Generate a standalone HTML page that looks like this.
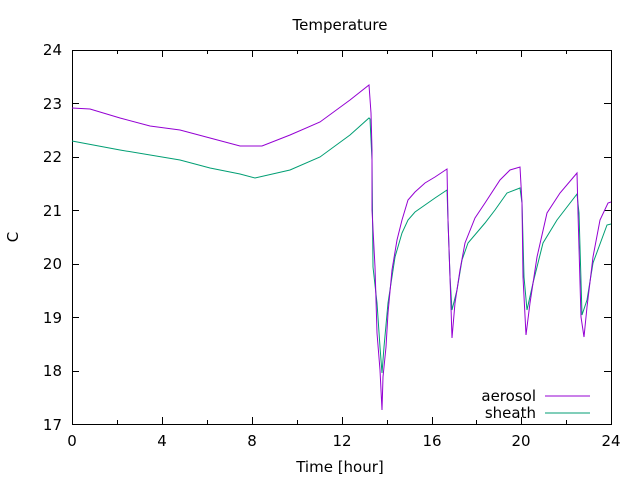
<!DOCTYPE html>
<html><head><style>body{margin:0;background:#fff}svg{display:block}text{font-family:"DejaVu Sans","Liberation Sans",sans-serif;font-size:15px;fill:#000}</style></head><body>
<svg width="640" height="480" xmlns="http://www.w3.org/2000/svg">
<g stroke="#000" stroke-width="1" fill="none">
<rect x="72.5" y="50.5" width="539" height="374"/>
<path d="M72 103.5h7M72 157.5h7M72 210.5h7M72 264.5h7M72 317.5h7M72 371.5h7M611 103.5h-7M611 157.5h-7M611 210.5h-7M611 264.5h-7M611 317.5h-7M611 371.5h-7"/>
<path d="M117.5 424v-4M162.5 424v-7M207.5 424v-4M252.5 424v-7M297.5 424v-4M342.5 424v-7M387.5 424v-4M432.5 424v-7M476.5 424v-4M521.5 424v-7M566.5 424v-4M117.5 50v4M162.5 50v7M207.5 50v4M252.5 50v7M297.5 50v4M342.5 50v7M387.5 50v4M432.5 50v7M476.5 50v4M521.5 50v7M566.5 50v4"/>
</g>
<g text-anchor="end"><text x="62" y="55">24</text><text x="62" y="109">23</text><text x="62" y="162">22</text><text x="62" y="216">21</text><text x="62" y="269">20</text><text x="62" y="323">19</text><text x="62" y="376">18</text><text x="62" y="430">17</text></g>
<g text-anchor="middle"><text x="72" y="446">0</text><text x="162" y="446">4</text><text x="252" y="446">8</text><text x="342" y="446">12</text><text x="432" y="446">16</text><text x="521" y="446">20</text><text x="611" y="446">24</text>
<text x="340" y="472">Time [hour]</text><text x="340" y="30">Temperature</text>
<text x="18" y="237" transform="rotate(-90 18 237)">C</text></g>
<g text-anchor="end"><text x="536" y="401">aerosol</text><text x="536" y="418">sheath</text></g>
<path d="M545 396h45" stroke="#9400d3"/><path d="M545 413h45" stroke="#009e73"/>
<polyline fill="none" stroke="#009e73" points="72,141 120,150 180,160 210,168 240,174 255,178 290,170 320,157 350,135 369,118 370,119 372,160 373,267 377,303 380,347 382,373 384,347 388,303 395,257 402,233 408,220 415,212 425,205 435,198 447,190 448,220 450,277 452,310 457,290 462,260 468,243 485,223 495,210 507,193 520,188 522,203 524,277 527,310 533,283 543,243 557,220 577,194 579,213 582,315 587,300 593,263 607,225 611,224"/>
<polyline fill="none" stroke="#9400d3" points="72,108 90,109 120,118 150,126 180,130 210,138 240,146 262,146 290,135 320,122 350,100 369,85 371,113 372,150 372,210 375,267 377,333 380,370 382,410 383,377 386,347 388,313 392,270 397,240 402,220 408,200 415,192 425,183 435,177 447,169 448,220 450,277 452,338 455,303 460,270 465,243 475,218 485,203 500,180 510,170 520,167 522,203 523,277 526,335 530,303 537,257 547,213 560,193 577,173 578,213 581,317 584,337 587,307 593,257 600,220 608,203 611,202"/>
</svg></body></html>
